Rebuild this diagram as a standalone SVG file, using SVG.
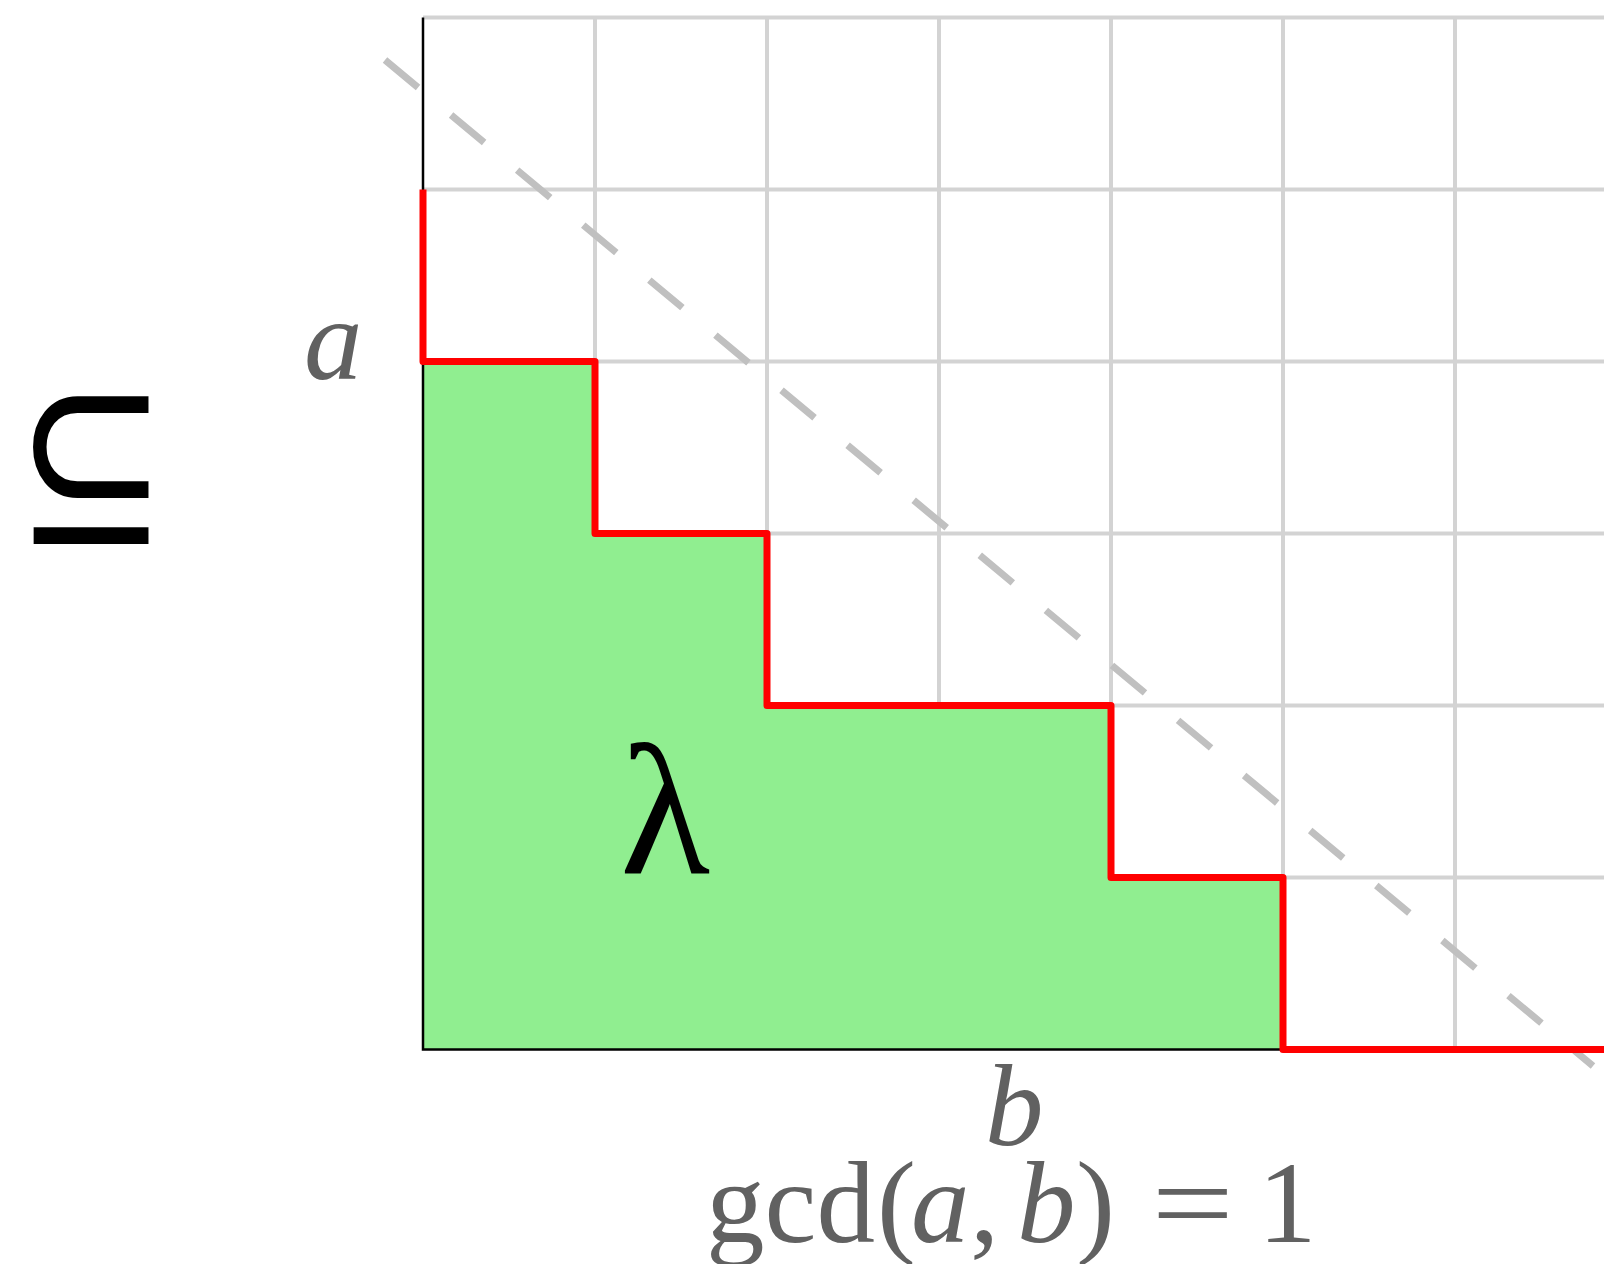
<svg xmlns="http://www.w3.org/2000/svg" width="1604" height="1264" viewBox="0 0 1604 1264">
<style>
.grid{stroke:#d3d3d3;stroke-width:4;fill:none}
.diag{stroke:#c0c0c0;stroke-width:7;stroke-dasharray:43 43;fill:none}
.axis{stroke:#000;stroke-width:2.5;fill:none}
.path{stroke:#ff0000;stroke-width:7;fill:none;stroke-linejoin:round}
.math{font-family:"Liberation Serif","Times New Roman",serif;fill:#616161;font-size:117px}
.it{font-style:italic}
</style>
<rect width="1604" height="1264" fill="#fff"/>
<g id="grid">
<path class="grid" d="M423 17.5H1604M423 189.5H1604M423 361.5H1604M423 533.5H1604M423 705.5H1604M423 877.5H1604M595 17.5V1049.5M767 17.5V1049.5M939 17.5V1049.5M1111 17.5V1049.5M1283 17.5V1049.5M1455 17.5V1049.5"/>
</g>
<g id="partition">
<polygon points="423,361.5 595,361.5 595,533.5 767,533.5 767,705.5 1111,705.5 1111,877.5 1283,877.5 1283,1049.5 423,1049.5" fill="#90ee90"/>
</g>
<g id="connectors">
<path class="axis" d="M423 17.5V1049.5H1283"/>
<path class="diag" d="M385 60L1593 1066"/>
<path class="path" d="M423 189.5V361.5H595V533.5H767V705.5H1111V877.5H1283V1049.5H1610"/>
</g>
<g id="labels">
<text transform="translate(16 540) scale(0.79 0.975)" x="0" y="0" font-family="'Noto Sans CJK JP', 'DejaVu Sans', sans-serif" font-size="190" fill="#000" stroke="#000" stroke-width="4">⊆</text>
<text x="304" y="379" class="math it">a</text>
<text x="985" y="1145" class="math it">b</text>
<text x="620" y="873" font-family="Liberation Serif, serif" font-size="186" fill="#000">λ</text>
<text y="1242" class="math"><tspan x="706">gcd</tspan><tspan x="877">(</tspan><tspan x="911" class="it">a</tspan><tspan x="970">,</tspan><tspan x="1017" class="it">b</tspan><tspan x="1076">)</tspan><tspan x="1258">1</tspan></text>
<text class="math" transform="translate(1151.5 1242) scale(1.25 1)">=</text>
</g>
</svg>
